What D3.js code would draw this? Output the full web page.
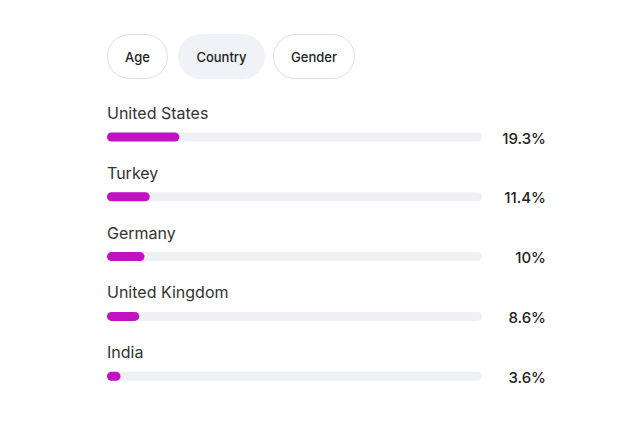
<!DOCTYPE html>
<html>
<head>
<meta charset="utf-8">
<script src="https://cdn.jsdelivr.net/npm/d3@7"></script>
<style>
  body { margin: 0; background: #fff; }
  text { font-family: Inter, "Noto Sans", sans-serif; }
</style>
</head>
<body>
<script>
// tabs and data
var tabs = ['Age', 'Country', 'Gender'];
var activeTab = 'Country';
var countries = ['United States', 'Turkey', 'Germany', 'United Kingdom', 'India'];
var shares = [19.3, 11.4, 10, 8.6, 3.6];
var shareLabels = ['19.3%', '11.4%', '10%', '8.6%', '3.6%'];

var width = 640;
var height = 440;
var svg = d3.select('body').append('svg')
  .attr('width', width)
  .attr('height', height);

// pill buttons
var tabX = [107, 178, 273];
var tabW = [61, 87, 82];
var tab = svg.selectAll('g.tab').data(tabs)
  .enter().append('g')
  .attr('class', 'tab')
  .attr('transform', function(d, i){ return 'translate(' + tabX[i] + ',34)'; });
tab.append('rect')
  .attr('x', 0.5).attr('y', 0.5)
  .attr('width', function(d, i){ return tabW[i] - 1; })
  .attr('height', 44)
  .attr('rx', 22)
  .style('fill', function(d){ return d === activeTab ? '#f0f2f7' : '#fff'; })
  .style('stroke', function(d){ return d === activeTab ? '#f0f2f7' : '#dedede'; });
tab.append('text')
  .attr('x', function(d, i){ return tabW[i] / 2; })
  .attr('y', 27.5)
  .attr('text-anchor', 'middle')
  .style('font-size', '13px')
  .style('font-weight', 500)
  .style('fill', '#222')
  .text(function(d){ return d; });

// scales
var x = d3.scaleLinear().domain([0, 100]).range([107, 482]);
var y = d3.scaleBand().domain(countries).range([107, 406]);

var row = svg.selectAll('g.row').data(countries)
  .enter().append('g')
  .attr('class', 'row')
  .attr('transform', function(d){ return 'translate(0,' + y(d) + ')'; });

row.append('text')
  .attr('x', 107)
  .attr('y', 12)
  .style('font-size', '16px')
  .style('fill', '#333')
  .text(function(d){ return d; });

row.append('rect')
  .attr('x', x(0))
  .attr('y', 25.5)
  .attr('width', x(100) - x(0))
  .attr('height', 9)
  .attr('rx', 4.5)
  .style('fill', '#eff0f4');

row.append('rect')
  .attr('x', x(0))
  .attr('y', 25.5)
  .attr('width', function(d, i){ return x(shares[i]) - x(0); })
  .attr('height', 9)
  .attr('rx', 4.5)
  .style('fill', '#c012c0');

row.append('text')
  .attr('x', 546)
  .attr('y', 36.5)
  .attr('text-anchor', 'end')
  .style('font-size', '15px')
  .style('font-weight', 500)
  .style('fill', '#222')
  .text(function(d, i){ return shareLabels[i]; });
</script>
</body>
</html>
